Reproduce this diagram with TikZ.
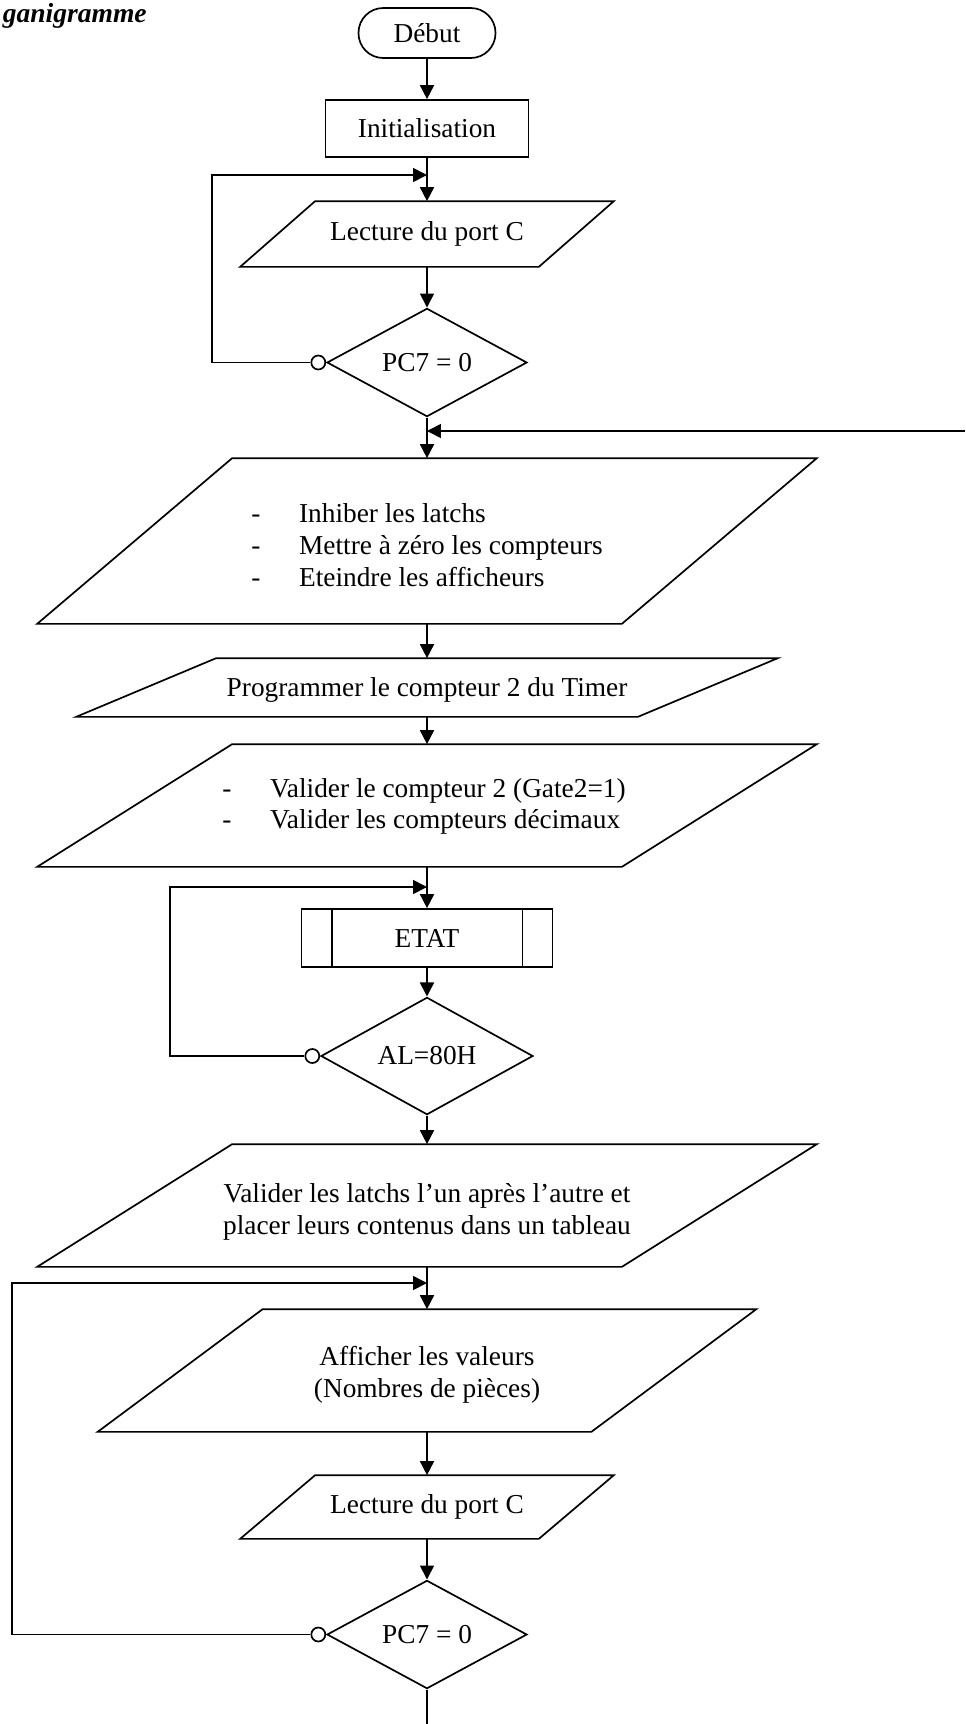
\documentclass[tikz,border=0pt]{standalone}
\usepackage{fontspec}
\setmainfont{Liberation Serif}
\usetikzlibrary{arrows.meta,shapes.geometric,calc}

\tikzset{
  flow/.style={-{Triangle[length=0.232cm,width=0.232cm]}},
  term/.style={draw, rounded corners=0.41cm},
  procbox/.style={draw},
  test/.style={draw, diamond},
  nobranch/.style={circle, draw, fill=white, minimum size=0.232cm, anchor=east},
}

% outline of an input/output block around an invisible frame node
\newcommand\ioshape[2]{%
  \draw (#1.south west) -- ($(#1.north west)+(#2,0)$) -- (#1.north east)
        -- ($(#1.south east)-(#2,0)$) -- cycle;}
% one line of a dashed list
\newcommand\listline[1]{\makebox[22.6pt][l]{-}#1}

\begin{document}
\begin{tikzpicture}[x=0.01658cm, y=-0.01658cm,
  line width=0.8pt,
  font=\fontsize{12.9}{15}\selectfont,
  every node/.style={inner sep=0pt}]
\useasboundingbox (0,0) rectangle (965,1724);

% heading
\node[anchor=base west, font=\fontsize{13}{15}\selectfont\bfseries\itshape] (title) at (2,22) {ganigramme};

% blocks
\node[term, minimum width=137*0.01658cm, minimum height=50*0.01658cm] (debut) at (427,33) {Début};
\node[procbox, minimum width=203*0.01658cm, minimum height=57*0.01658cm] (init) at (427,128.5) {Initialisation};
\node[minimum width=372*0.01658cm, minimum height=64*0.01658cm] (lect1) at (427,234) {Lecture du port C};
\ioshape{lect1}{75}
\node[test, minimum width=200*0.01658cm, minimum height=107*0.01658cm] (d1) at (427,362.5) {PC7 = 0};
\node[nobranch] (c1) at (d1.west) {};

\node[minimum width=778*0.01658cm, minimum height=164*0.01658cm] (p1) at (427,541) {};
\ioshape{p1}{195}
\node[align=left] (p1t) at ($(p1.center)+(0,4)$)
  {\listline{Inhiber les latchs}\\ \listline{Mettre à zéro les compteurs}\\ \listline{Eteindre les afficheurs}};

\node[minimum width=700*0.01658cm, minimum height=57*0.01658cm] (p2) at (427,687.5) {};
\ioshape{p2}{140}
\node (p2t) at ($(p2.center)+(0,2)$) {Programmer le compteur 2 du Timer};

\node[minimum width=778*0.01658cm, minimum height=121*0.01658cm] (p3) at (427,805.5) {};
\ioshape{p3}{195}
\node[align=left] (p3t) at ($(p3.center)+(-3,1)$)
  {\listline{Valider le compteur 2 (Gate2=1)}\\ \listline{Valider les compteurs décimaux}};

\node[procbox, minimum width=251*0.01658cm, minimum height=58*0.01658cm] (etat) at (427,938) {ETAT};
\draw ($(etat.north west)+(31,0)$) -- ($(etat.south west)+(31,0)$);
\draw ($(etat.north east)-(31,0)$) -- ($(etat.south east)-(31,0)$);
\node[test, minimum width=212*0.01658cm, minimum height=106*0.01658cm] (d2) at (427,1056) {AL=80H};
\node[nobranch] (c2) at (d2.west) {};

\node[minimum width=778*0.01658cm, minimum height=121*0.01658cm] (p4) at (427,1205.5) {};
\ioshape{p4}{195}
\node[align=center] (p4t) at ($(p4.center)+(0,6)$)
  {Valider les latchs l’un après l’autre et\\ placer leurs contenus dans un tableau};

\node[minimum width=657*0.01658cm, minimum height=121*0.01658cm] (p5) at (427,1370.5) {};
\ioshape{p5}{165}
\node[align=center] (p5t) at ($(p5.center)+(0,4)$)
  {Afficher les valeurs\\ (Nombres de pièces)};

\node[minimum width=372*0.01658cm, minimum height=62*0.01658cm] (lect2) at (427,1507) {Lecture du port C};
\ioshape{lect2}{75}
\node[test, minimum width=200*0.01658cm, minimum height=105*0.01658cm] (d3) at (427,1634.5) {PC7 = 0};
\node[nobranch] (c3) at (d3.west) {};

% junction points and free ends
\coordinate (j1) at (427,175);   \coordinate (l1) at (212,175);
\coordinate (j2) at (427,431);   \coordinate (r1) at (965,431);
\coordinate (j3) at (427,887);   \coordinate (l2) at (170,887);
\coordinate (j4) at (427,1283);  \coordinate (l3) at (12,1283);
\coordinate (e1) at (427,1724);

% main flow
\draw[flow] (debut) -- (init);
\draw[flow] (init) -- (lect1);
\draw[flow] (lect1) -- (d1);
\draw[flow] (d1) -- (p1);
\draw[flow] (p1) -- (p2);
\draw[flow] (p2) -- (p3);
\draw[flow] (p3) -- (etat);
\draw[flow] (etat) -- (d2);
\draw[flow] (d2) -- (p4);
\draw[flow] (p4) -- (p5);
\draw[flow] (p5) -- (lect2);
\draw[flow] (lect2) -- (d3);
\draw (d3.south) -- (e1);

% loops back
\draw[flow] (c1.west) -| (l1) -- (j1);
\draw[flow] (r1) -- (j2);
\draw[flow] (c2.west) -| (l2) -- (j3);
\draw[flow] (c3.west) -| (l3) -- (j4);
\end{tikzpicture}
\end{document}
